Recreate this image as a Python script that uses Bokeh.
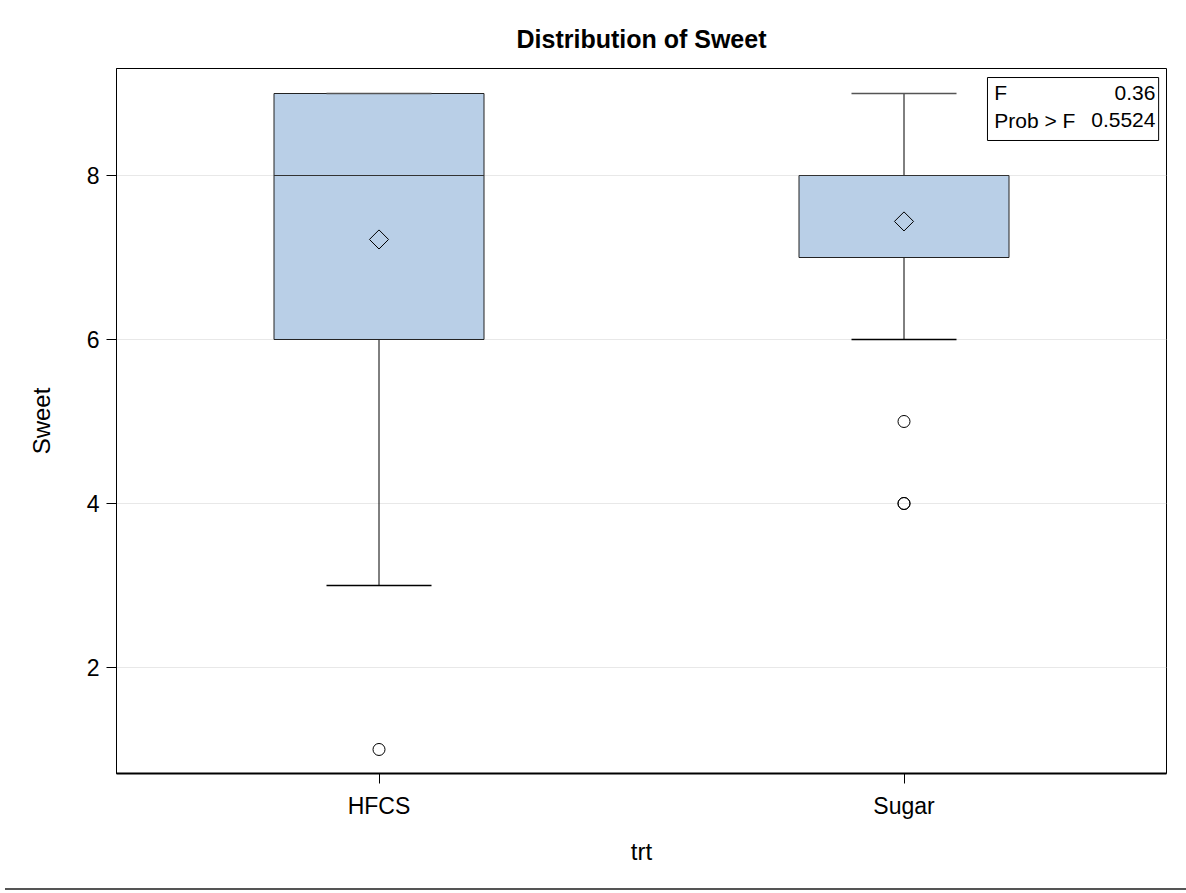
import math
from bokeh.plotting import figure
from bokeh.models import ColumnDataSource, FactorRange, Range1d, Label, Div
from bokeh.layouts import column
from bokeh.transform import dodge
from bokeh.embed import file_html
from bokeh.resources import INLINE

# ---- data ----
categories = ["HFCS", "Sugar"]
q1 = [6, 7]
median = [8, 8]
q3 = [9, 8]
whisker_low = [3, 6]
whisker_high = [9, 9]
means = [7.22, 7.44]
outlier_cat = ["HFCS", "Sugar", "Sugar", "Sugar"]
outlier_val = [1, 5, 4, 4]
y_ticks = [2, 4, 6, 8]
f_value = "0.36"
prob_f = "0.5524"

FONT = "Liberation Sans"

src = ColumnDataSource(dict(cat=categories, q1=q1, med=median, q3=q3,
                            lo=whisker_low, hi=whisker_high, mean=means))

p = figure(x_range=FactorRange(*categories), y_range=Range1d(0.707, 9.305),
           frame_width=1050, frame_height=705,
           min_border_left=116, min_border_right=20, min_border_top=68, min_border_bottom=113,
           output_backend="svg", toolbar_location=None,
           title="Distribution of Sweet")
p.background_fill_color = "white"
p.border_fill_color = "white"
p.outline_line_color = "black"
p.outline_line_width = 1

p.title.align = "center"
p.title.text_font = FONT
p.title.text_font_size = "25px"
p.title.text_font_style = "bold"
p.title.text_color = "black"
p.title.standoff = 31

p.xgrid.visible = False
p.ygrid.grid_line_color = "#E8E8E8"
p.ygrid.grid_line_width = 1

p.yaxis.ticker = y_ticks
p.yaxis.axis_label = "Sweet"
p.xaxis.axis_label = "trt"
for ax in (p.xaxis, p.yaxis):
    ax.axis_label_text_font = FONT
    ax.axis_label_text_font_size = "24px"
    ax.axis_label_text_font_style = "normal"
    ax.axis_label_text_color = "black"
    ax.major_label_text_font = FONT
    ax.major_label_text_font_size = "23px"
    ax.major_label_text_color = "black"
    ax.major_tick_out = 10
    ax.major_tick_in = 0
    ax.minor_tick_line_color = None
    ax.major_tick_line_color = "black"
    ax.axis_line_color = "black"
p.xaxis.axis_line_width = 2
p.yaxis.axis_line_width = 1
p.yaxis.major_label_standoff = 7
p.xaxis.major_label_standoff = 9
p.yaxis.axis_label_standoff = 29
p.xaxis.axis_label_standoff = 16

box_w = 0.4
cap_w = 0.2
lo_x = dodge("cat", -box_w / 2, range=p.x_range)
hi_x = dodge("cat", box_w / 2, range=p.x_range)
clo_x = dodge("cat", -cap_w / 2, range=p.x_range)
chi_x = dodge("cat", cap_w / 2, range=p.x_range)

# whiskers
p.segment(x0="cat", y0="q1", x1="cat", y1="lo", source=src, line_color="black", line_width=1)
p.segment(x0="cat", y0="q3", x1="cat", y1="hi", source=src, line_color="black", line_width=1)
# boxes
p.vbar(x="cat", width=box_w, bottom="q1", top="q3", source=src,
       fill_color="#B9CFE7", line_color="#222222", line_width=1)
# median
p.segment(x0=lo_x, y0="med", x1=hi_x, y1="med", source=src, line_color="#333333", line_width=1)
# caps
p.segment(x0=clo_x, y0="lo", x1=chi_x, y1="lo", source=src, line_color="black", line_width=1.5)
p.segment(x0=clo_x, y0="hi", x1=chi_x, y1="hi", source=src, line_color="#555555", line_width=1.5)
# means
p.scatter(x="cat", y="mean", source=src, marker="square", angle=math.pi / 4, size=13.5,
          fill_color=None, line_color="black", line_width=1)
# outliers
p.scatter(x=outlier_cat, y=outlier_val, marker="circle", size=12,
          fill_color=None, line_color="black", line_width=1)

# inset statistics table
p.quad(left=1.659, right=1.985, top=9.195, bottom=8.427,
       fill_color="white", line_color="black", line_width=1)
common = dict(text_font=FONT, text_font_size="21px", text_color="black", text_baseline="middle")
p.add_layout(Label(x=1.672, y=9.012, text="F", text_align="left", **common))
p.add_layout(Label(x=1.979, y=9.012, text=f_value, text_align="right", **common))
p.add_layout(Label(x=1.672, y=8.671, text="Prob > F", text_align="left", **common))
p.add_layout(Label(x=1.979, y=8.671, text=prob_f, text_align="right", **common))

sep = Div(text="", width=1186, height=4,
          styles={"border-top": "2px solid #555555", "margin-top": "2px"})

layout = column(p, sep, spacing=0)
open("out.html", "w").write(file_html(layout, INLINE))
